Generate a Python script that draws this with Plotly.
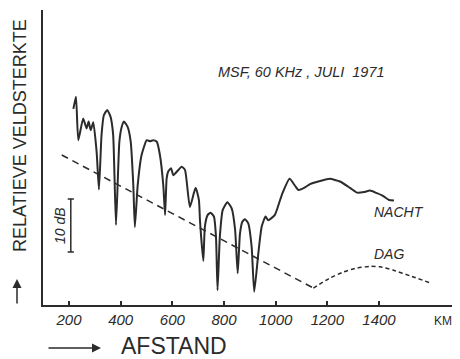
import plotly.graph_objects as go

# ---- data (distance in km, relative field strength in dB) ----
night_km = [217, 227, 236, 255, 268, 276, 284, 294, 307, 316, 326, 335, 348, 361, 371, 382,
            395, 404, 413, 427, 439, 449, 455, 466, 481, 501, 514, 526, 540, 552, 565, 572,
            578, 584, 595, 604, 636, 649, 668, 690, 703, 707, 720, 726, 737, 748, 761, 769,
            775, 784, 795, 813, 830, 843, 853, 862, 871, 881, 894, 907, 917, 933, 946, 961,
            971, 997, 1024, 1054, 1075, 1088, 1110, 1133, 1172, 1210, 1249, 1288, 1315, 1342,
            1365, 1392, 1415, 1439, 1458]
night_db = [37.0, 39.3, 31.1, 35.2, 33.3, 34.6, 33.0, 34.5, 28.9, 21.8, 32.1, 35.8, 36.8, 35.5, 32.1, 15.1,
            30.8, 33.6, 34.6, 33.6, 30.8, 22.6, 14.7, 22.6, 28.3, 31.1, 30.9, 31.1, 30.8, 28.3, 22.6, 17.0,
            23.9, 25.2, 25.8, 24.5, 26.1, 25.5, 18.5, 22.1, 19.8, 16.0, 8.3, 14.8, 17.0, 17.4, 16.7, 12.9,
            2.8, 12.9, 17.9, 19.4, 18.2, 14.2, 6.0, 13.5, 15.7, 16.2, 15.4, 11.0, 2.5, 9.8, 14.8, 16.7,
            16.0, 17.0, 20.8, 23.8, 22.5, 21.7, 22.1, 22.8, 23.4, 23.8, 23.3, 22.1, 21.2, 21.3,
            21.6, 21.1, 20.6, 19.8, 19.7]

day_km = [172, 1146, 1210, 1261, 1307, 1365, 1404, 1454, 1520, 1597]
day_db = [28.3, 3.2, 5.1, 6.2, 6.9, 7.3, 7.2, 6.6, 5.5, 4.2]

tick_vals = [200, 400, 600, 800, 1000, 1200, 1400]
tick_text = ["200", "400", "600", "800", "1000", "1200", "1400"]

scale_bar_db = [10, 20]  # the 10 dB reference bar

INK = "#2b2b2b"
OFF = 8  # page body margin of the browser
W, H = 460 - OFF, 359 - OFF
L, R, T, B = 43 - OFF, 0, 10 - OFF, 54
PW, PH = W - L - R, H - T - B


def px(xp):
    return (xp - OFF - L) / PW


def py(yp):
    return (H - B - (yp - OFF)) / PH


fig = go.Figure()
fig.add_trace(go.Scatter(x=night_km, y=night_db, mode="lines",
                         line=dict(color=INK, width=2, shape="spline", smoothing=0.5),
                         name="NACHT", hoverinfo="skip"))
fig.add_trace(go.Scatter(x=day_km[:2], y=day_db[:2], mode="lines",
                         line=dict(color=INK, width=1.5, dash="7px,5px"), name="DAG", hoverinfo="skip"))
fig.add_trace(go.Scatter(x=day_km[1:], y=day_db[1:], mode="lines",
                         line=dict(color=INK, width=1.5, dash="4px,3px", shape="spline", smoothing=0.6),
                         name="DAG2", hoverinfo="skip"))

# 10 dB scale bar
bar_x = 207
fig.add_shape(type="line", x0=bar_x, x1=bar_x, y0=scale_bar_db[0], y1=scale_bar_db[1],
              line=dict(color=INK, width=1.5))
for yv in scale_bar_db:
    fig.add_shape(type="line", x0=bar_x - 12, x1=bar_x + 12, y0=yv, y1=yv,
                  line=dict(color=INK, width=1.5))

FAM = "Liberation Sans, Arial, sans-serif"
ital = dict(family=FAM, color=INK, style="italic")
NB = "\u00a0"

ann = [
    dict(x=px(301), y=py(72), text=f"MSF,{NB}60{NB}KHz{NB},{NB}JULI{NB}{NB}1971", font=dict(size=14.5, **ital)),
    dict(x=px(399), y=py(212), text="NACHT", font=dict(size=14, **ital)),
    dict(x=px(388.5), y=py(254), text="DAG", font=dict(size=14, **ital)),
    dict(x=px(60), y=py(226), text="10 dB", textangle=-90, font=dict(size=14, **ital)),
    dict(x=px(443), y=py(321), text="KM", font=dict(size=12, family=FAM, color=INK)),
    dict(x=px(173.5), y=py(346.5), text="AFSTAND", font=dict(size=23, family=FAM, color=INK)),
    dict(x=px(20), y=py(136), text="RELATIEVE VELDSTERKTE", textangle=-90,
         font=dict(size=18, family=FAM, color=INK)),
]
annotations = [dict(a, xref="paper", yref="paper", showarrow=False,
                    xanchor="center", yanchor="middle") for a in ann]

# arrows
annotations.append(dict(xref="paper", yref="paper", x=px(101), y=py(348), text="",
                        showarrow=True, ax=-54, ay=0, arrowhead=2, arrowsize=1.2,
                        arrowwidth=1.5, arrowcolor=INK))
annotations.append(dict(xref="paper", yref="paper", x=px(17), y=py(279), text="",
                        showarrow=True, ax=0, ay=26, arrowhead=2, arrowsize=1.2,
                        arrowwidth=1.5, arrowcolor=INK))

fig.update_layout(
    width=W, height=H,
    margin=dict(l=L, r=R, t=T, b=B),
    paper_bgcolor="white", plot_bgcolor="white",
    showlegend=False,
    annotations=annotations,
    xaxis=dict(range=[99.4, 1713.6], showgrid=False, zeroline=False,
               showline=True, linecolor=INK, linewidth=2,
               ticks="inside", ticklen=4, tickwidth=1.5, tickcolor=INK,
               tickvals=tick_vals, ticktext=tick_text,
               tickfont=dict(size=15, **ital)),
    yaxis=dict(range=[0, 55.66], showgrid=False, zeroline=False,
               showline=True, linecolor=INK, linewidth=2,
               showticklabels=False, ticks=""),
)

fig.write_html("out.html")
